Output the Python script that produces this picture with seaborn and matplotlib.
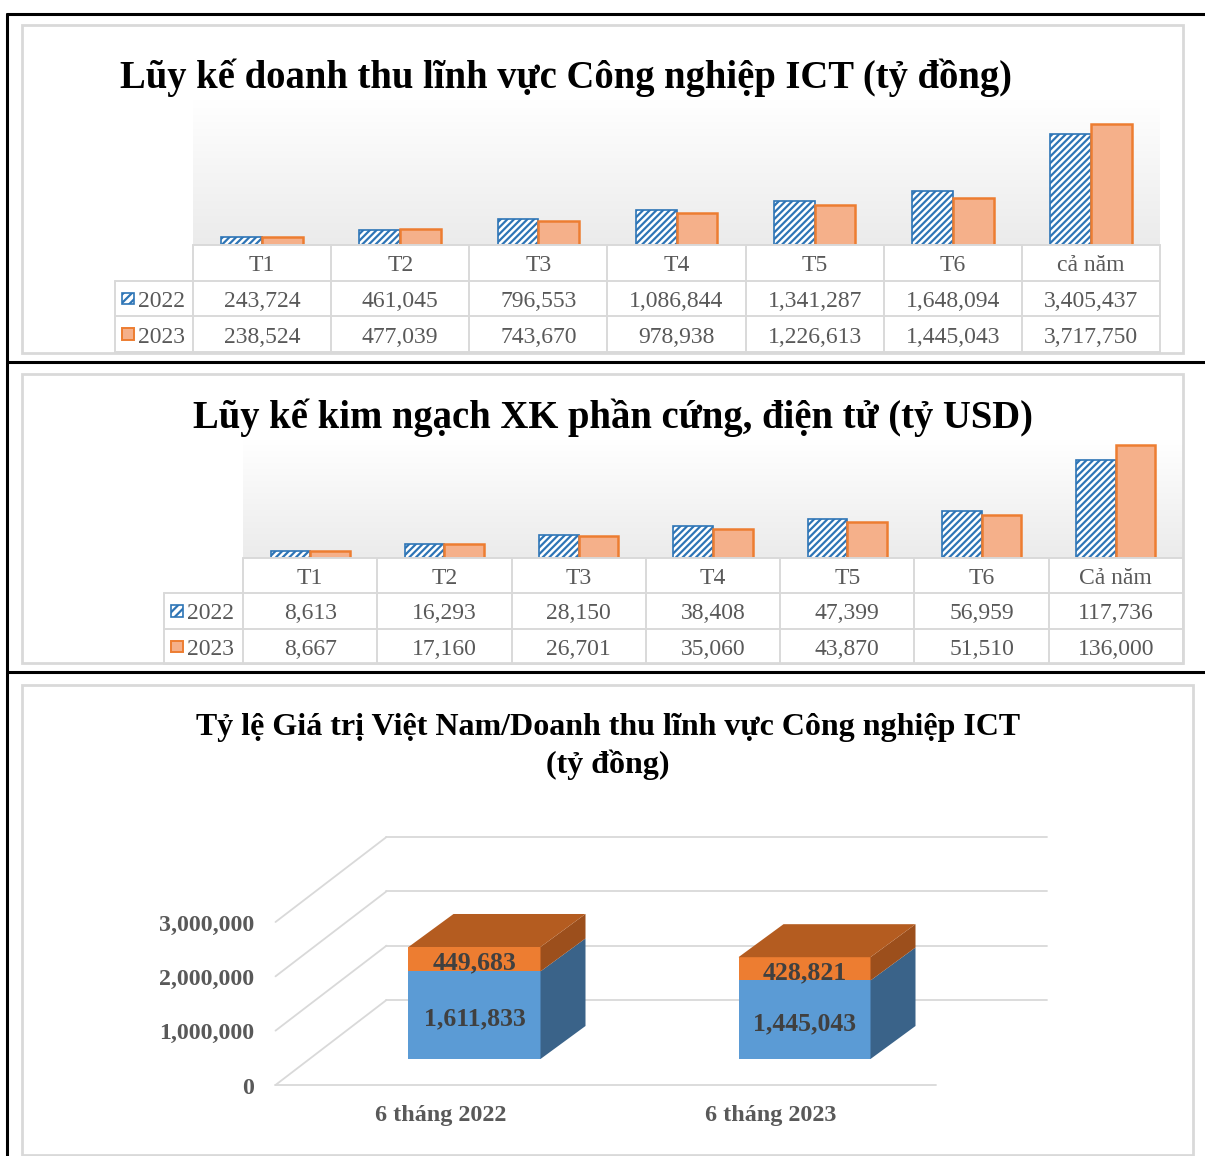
import numpy as np
import pandas as pd
import matplotlib
matplotlib.use("Agg")
import matplotlib.pyplot as plt
from matplotlib.patches import Rectangle, Polygon
from matplotlib.lines import Line2D
from matplotlib.colors import LinearSegmentedColormap
import seaborn as sns

# ---------------- data ----------------
months_ict = ["T1", "T2", "T3", "T4", "T5", "T6", "cả năm"]
ict_2022 = [243724, 461045, 796553, 1086844, 1341287, 1648094, 3405437]
ict_2023 = [238524, 477039, 743670, 978938, 1226613, 1445043, 3717750]

months_xk = ["T1", "T2", "T3", "T4", "T5", "T6", "Cả năm"]
xk_2022 = [8613, 16293, 28150, 38408, 47399, 56959, 117736]
xk_2023 = [8667, 17160, 26701, 35060, 43870, 51510, 136000]

years = ["2022", "2023"]

periods = ["6 tháng 2022", "6 tháng 2023"]
vn_value = [1611833, 1445043]
other_value = [449683, 428821]
value_ticks = [0, 1000000, 2000000, 3000000]

# ---------------- style ----------------
sns.set_theme(style="white")
plt.rcParams["font.family"] = ["Liberation Serif", "DejaVu Serif"]
plt.rcParams["hatch.linewidth"] = 1.6

W, H = 1205, 1156
BLUE_EDGE = "#2E75B6"
ORANGE_EDGE = "#ED7D31"
ORANGE_FILL = "#F5B08A"
GRID = "#D9D9D9"
TXT = "#595959"

fig = plt.figure(figsize=(W / 100, H / 100), dpi=100)
fig.patch.set_facecolor("white")


def px_rect(x0, y0, x1, y1):
    return [x0 / W, 1 - y1 / H, (x1 - x0) / W, (y1 - y0) / H]


def fig_line(xs, ys, **kw):
    fig.add_artist(Line2D([x / W for x in xs], [1 - y / H for y in ys],
                          transform=fig.transFigure, **kw))


def fig_frame(x0, y0, x1, y1):
    fig.add_artist(Rectangle((x0 / W, 1 - y1 / H), (x1 - x0) / W, (y1 - y0) / H,
                             transform=fig.transFigure, fill=False,
                             edgecolor=GRID, lw=2.0))


# outer black rules and panel frames
fig_line([7, 1205], [14, 14], color="black", lw=2.2)
fig_line([7, 7], [14, 1156], color="black", lw=2.2)
fig_line([7, 1205], [362, 362], color="black", lw=2.2)
fig_line([7, 1205], [672, 672], color="black", lw=2.2)
fig_frame(22, 25, 1183, 353)
fig_frame(22, 374, 1183, 663)
fig_frame(22, 685, 1193, 1155)

grad_cmap = LinearSegmentedColormap.from_list("bg", ["#EBEBEB", "#FFFFFF"])
TABLE_FS = 17


def bar_table_panel(cats, v22, v23, ymax, plot_box, table_left, table_bottom):
    x0, y0, x1, y1 = plot_box
    n = len(cats)

    # soft vertical gradient behind the bars
    bg = fig.add_axes(px_rect(x0, y0, x1, y1))
    bg.imshow(np.linspace(0, 1, 256).reshape(-1, 1), cmap=grad_cmap,
              aspect="auto", origin="lower", extent=[0, 1, 0, 1])
    bg.axis("off")

    ax = fig.add_axes(px_rect(x0, y0, x1, y1))
    ax.patch.set_alpha(0)
    df = pd.DataFrame({
        "cat": cats * 2,
        "year": [years[0]] * n + [years[1]] * n,
        "value": v22 + v23,
    })
    sns.barplot(data=df, x="cat", y="value", hue="year", order=cats,
                hue_order=years, palette=["white", ORANGE_FILL], width=0.59,
                saturation=1, legend=False, ax=ax, zorder=2)
    for p in ax.containers[0]:
        p.set_facecolor("white")
        p.set_edgecolor(BLUE_EDGE)
        p.set_hatch("/////")
        p.set_linewidth(1.2)
    for p in ax.containers[1]:
        p.set_facecolor(ORANGE_FILL)
        p.set_edgecolor(ORANGE_EDGE)
        p.set_linewidth(1.8)
    ax.set_xlim(-0.5, n - 0.5)
    ax.set_ylim(0, ymax)
    ax.axis("off")

    # data table underneath
    colpx = (x1 - x0) / n
    legw = (x0 - table_left) / colpx
    tab = fig.add_axes(px_rect(table_left, y1, x1, table_bottom))
    tab.set_xlim(-0.5 - legw, n - 0.5)
    tab.set_ylim(0, 3)
    tab.axis("off")
    lk = dict(color=GRID, lw=1.4, clip_on=False)
    for i in range(n + 1):
        tab.plot([-0.5 + i, -0.5 + i], [0, 3], **lk)
    tab.plot([-0.5 - legw, -0.5 - legw], [0, 2], **lk)
    tab.plot([-0.5, n - 0.5], [3, 3], **lk)
    for yy in (2, 1, 0):
        tab.plot([-0.5 - legw, n - 0.5], [yy, yy], **lk)

    tk = dict(ha="center", va="center", fontsize=TABLE_FS, color=TXT)
    for i, c in enumerate(cats):
        tab.text(i, 2.42, c, **tk)
        tab.text(i, 1.42, f"{v22[i]:,}", **tk)
        tab.text(i, 0.42, f"{v23[i]:,}", **tk)

    kx = -0.5 - legw + 7 / colpx
    kw = 12 / colpx
    tab.add_patch(Rectangle((kx, 1.5 - 0.16), kw, 0.32, facecolor="white",
                            edgecolor=BLUE_EDGE, hatch="////", lw=1.2,
                            clip_on=False))
    tab.add_patch(Rectangle((kx, 0.5 - 0.16), kw, 0.32, facecolor=ORANGE_FILL,
                            edgecolor=ORANGE_EDGE, lw=1.4, clip_on=False))
    tab.text(kx + 16 / colpx, 1.42, years[0], ha="left", va="center",
             fontsize=TABLE_FS, color=TXT)
    tab.text(kx + 16 / colpx, 0.42, years[1], ha="left", va="center",
             fontsize=TABLE_FS, color=TXT)


# panel 1: ICT revenue
bar_table_panel(months_ict, ict_2022, ict_2023, 4.46e6,
                (193, 100, 1160, 245), 115, 352)
fig.text(566 / W, 1 - 78 / H,
         "Lũy kế doanh thu lĩnh vực Công nghiệp ICT (tỷ đồng)",
         ha="center", va="center", fontsize=27.8, fontweight="bold", color="black")

# panel 2: hardware & electronics export
bar_table_panel(months_xk, xk_2022, xk_2023, 142000,
                (243, 440, 1183, 558), 164, 664)
fig.text(613 / W, 1 - 418 / H,
         "Lũy kế kim ngạch XK phần cứng, điện tử (tỷ USD)",
         ha="center", va="center", fontsize=27.8, fontweight="bold", color="black")

# panel 3: 3-D style stacked columns
fig.text(608 / W, 1 - 728 / H,
         "Tỷ lệ Giá trị Việt Nam/Doanh thu lĩnh vực Công nghiệp ICT",
         ha="center", va="center", fontsize=23, fontweight="bold", color="black")
fig.text(608 / W, 1 - 765 / H, "(tỷ đồng)",
         ha="center", va="center", fontsize=23, fontweight="bold", color="black")

ax3 = fig.add_axes(px_rect(309.5, 896, 969.5, 1059))
ax3.patch.set_alpha(0)
ymax3 = 3e6
xs_px = 660 / 2.0          # pixels per category unit
ys_px = 163 / ymax3        # pixels per value unit


def depth(dx_px, dy_px):
    return dx_px / xs_px, dy_px / ys_px


fx, fy = depth(-34, -26)   # front edge of the floor
bx, by = depth(77, 59)     # back wall
cdx, cdy = depth(45, 33)   # column depth

totals = [a + b for a, b in zip(vn_value, other_value)]
sns.barplot(x=periods, y=totals, color="#ED7D31", width=0.4, saturation=1,
            linewidth=0, ax=ax3, zorder=3)
sns.barplot(x=periods, y=vn_value, color="#5B9BD5", width=0.4, saturation=1,
            linewidth=0, ax=ax3, zorder=3)
ax3.set_xlim(-0.5, 1.5)
ax3.set_ylim(0, ymax3)
ax3.axis("off")

gk = dict(color=GRID, lw=1.3, clip_on=False, zorder=1)
for v in value_ticks:
    ax3.plot([-0.5 + fx, -0.5 + bx], [v + fy, v + by], **gk)
    ax3.plot([-0.5 + bx, 1.5 + bx], [v + by, v + by], **gk)
    ax3.annotate(f"{v:,}", xy=(-0.5 + fx, v + fy), xytext=(-21, -3),
                 textcoords="offset pixels", ha="right", va="center",
                 fontsize=17.2, fontweight="bold", color=TXT,
                 annotation_clip=False)
ax3.plot([-0.5 + fx, 1.5 + fx], [fy, fy], **gk)

for i, lab in enumerate(periods):
    ax3.annotate(lab, xy=(i + fx, fy), xytext=(0, -30),
                 textcoords="offset pixels", ha="center", va="center",
                 fontsize=17.4, fontweight="bold", color=TXT,
                 annotation_clip=False)

lab_kw = dict(textcoords="offset pixels", xytext=(0, -4), ha="center",
              va="center", fontsize=18.5, fontweight="bold", color="#404040",
              zorder=5, annotation_clip=False)
for i in range(len(periods)):
    bar = ax3.containers[1][i]
    x0 = bar.get_x()
    w = bar.get_width()
    x1 = x0 + w
    v1 = vn_value[i]
    v2 = totals[i]
    # right side faces
    ax3.add_patch(Polygon([(x1, 0), (x1, v1), (x1 + cdx, v1 + cdy), (x1 + cdx, cdy)],
                          closed=True, facecolor="#3A6389", lw=0, zorder=3,
                          clip_on=False))
    ax3.add_patch(Polygon([(x1, v1), (x1, v2), (x1 + cdx, v2 + cdy), (x1 + cdx, v1 + cdy)],
                          closed=True, facecolor="#9C4F1C", lw=0, zorder=3,
                          clip_on=False))
    # top face
    ax3.add_patch(Polygon([(x0, v2), (x1, v2), (x1 + cdx, v2 + cdy), (x0 + cdx, v2 + cdy)],
                          closed=True, facecolor="#B45C20", lw=0, zorder=3,
                          clip_on=False))
    ax3.annotate(f"{vn_value[i]:,}", xy=(i, v1 / 2), **lab_kw)
    ax3.annotate(f"{other_value[i]:,}", xy=(i, v1 + other_value[i] / 2), **lab_kw)

fig.savefig("out.png", dpi=100, facecolor="white")
